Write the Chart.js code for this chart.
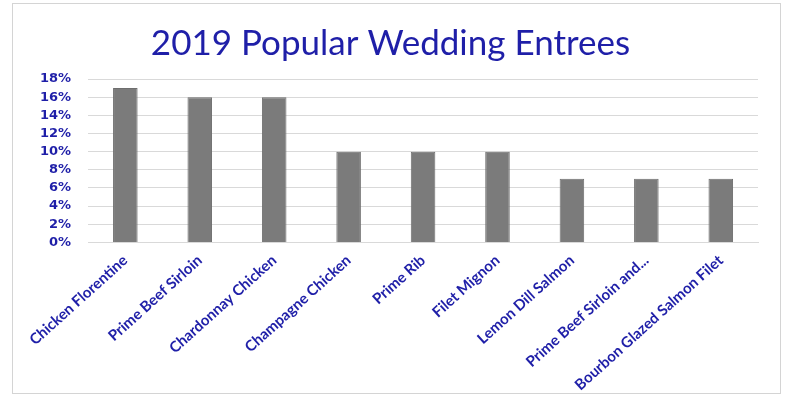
<!DOCTYPE html>
<html>
<head>
<meta charset="utf-8">
<script src="https://cdn.jsdelivr.net/npm/chart.js@4/dist/chart.umd.min.js"></script>
<style>
  body { margin: 0; background: #fff; overflow: hidden; }
  #frame {
    position: absolute; left: 12px; top: 3px;
    width: 767px; height: 389px;
    border: 1px solid #d4d4d4; background: #fff;
  }
  #chart { position: absolute; left: 13px; top: 4px; }
</style>
</head>
<body>
<div id="frame"></div>
<canvas id="chart" width="766" height="399"></canvas>
<script>
// entree names and share of votes (%)
var entrees = ['Chicken Florentine', 'Prime Beef Sirloin', 'Chardonnay Chicken',
  'Champagne Chicken', 'Prime Rib', 'Filet Mignon', 'Lemon Dill Salmon',
  'Prime Beef Sirloin and...', 'Bourbon Glazed Salmon Filet'];
var shares = [17, 16, 16, 10, 10, 10, 7, 7, 7];

var blue = '#1f1fa8';

var ctx = document.getElementById('chart').getContext('2d');
var myChart = new Chart(ctx, {
  type: 'bar',
  data: {
    labels: entrees,
    datasets: [{
      label: 'Share',
      data: shares,
      backgroundColor: '#7b7b7b',
      borderColor: '#6e6e6e',
      borderWidth: 1,
      barPercentage: 1,
      categoryPercentage: 0.33
    }]
  },
  options: {
    responsive: false,
    animation: false,
    layout: { padding: { left: 10, right: 21, top: 19, bottom: 0 } },
    plugins: {
      legend: { display: false },
      tooltip: { enabled: false },
      title: {
        display: true,
        text: '2019 Popular Wedding Entrees',
        color: blue,
        font: { family: 'Lato', size: 35, weight: 'normal' },
        padding: { top: 0, bottom: 14 }
      }
    },
    scales: {
      x: {
        grid: { display: false, drawTicks: false },
        border: { color: '#d9d9d9' },
        ticks: {
          color: blue,
          font: { family: 'Lato', size: 15, weight: 'bold' },
          minRotation: 42,
          maxRotation: 42,
          autoSkip: false,
          padding: 9
        }
      },
      y: {
        min: 0,
        max: 18,
        grid: { color: '#d9d9d9', drawTicks: false },
        border: { display: false },
        ticks: {
          stepSize: 2,
          autoSkip: false,
          color: blue,
          padding: 17,
          font: { family: 'Verdana, DejaVu Sans', size: 13, weight: 'bold' },
          callback: function (v) { return v + '%'; }
        }
      }
    }
  }
});
</script>
</body>
</html>
